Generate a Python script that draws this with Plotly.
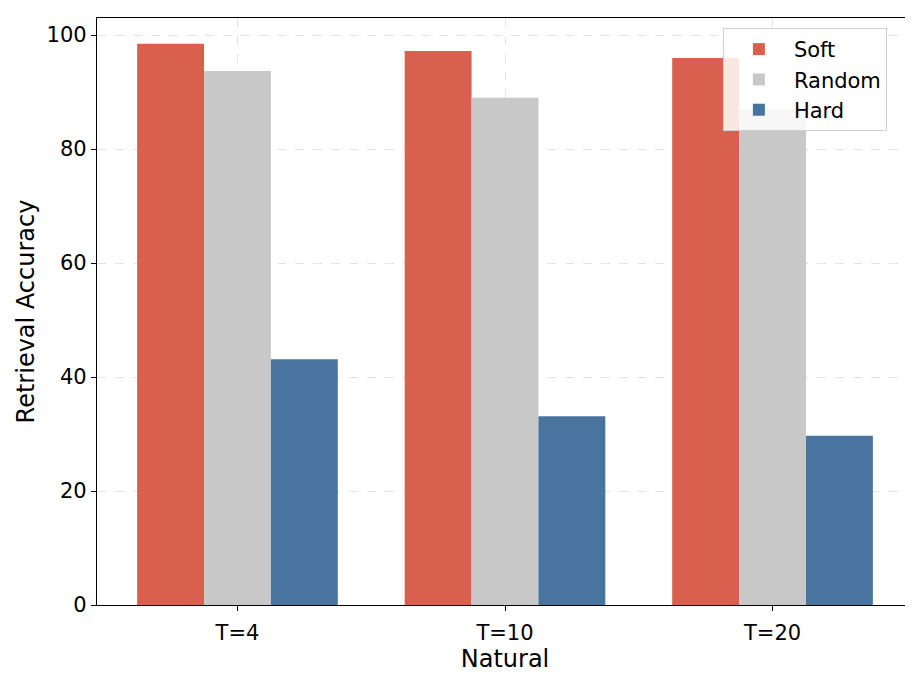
import plotly.graph_objects as go

categories = ["T=4", "T=10", "T=20"]
soft = [98.5, 97.2, 96.0]
random_ = [93.7, 89.0, 87.0]
hard = [43.1, 33.1, 29.7]

colors = {"Soft": "#d95f4e", "Random": "#c8c8c8", "Hard": "#48749f"}

fig = go.Figure()
for name, vals in [("Soft", soft), ("Random", random_), ("Hard", hard)]:
    fig.add_trace(go.Bar(x=categories, y=vals, name=name,
                         marker=dict(color=colors[name], line=dict(width=0))))

fig.update_layout(
    width=913, height=685,
    margin=dict(l=89, r=8, t=10, b=88, autoexpand=False),
    plot_bgcolor="white", paper_bgcolor="white",
    barmode="group", bargap=0.25, bargroupgap=0,
    font=dict(family="DejaVu Sans", size=21, color="black"),
    legend=dict(x=0.968, y=0.983, xanchor="right", yanchor="top",
                bgcolor="rgba(255,255,255,0.85)", bordercolor="#d0d0d0", borderwidth=1,
                font=dict(size=21), itemwidth=60, tracegroupgap=0),
    showlegend=True,
)
fig.update_xaxes(
    type="category", range=[-0.525, 2.525], automargin=False,
    title=dict(text="Natural", font=dict(size=24), standoff=0),
    showline=True, linecolor="black", linewidth=1.2, mirror=True,
    ticks="outside", ticklen=5, tickcolor="black", ticklabelstandoff=4,
    showgrid=True, gridcolor="#e3e3e3", griddash="dash", gridwidth=1,
)
fig.update_yaxes(
    range=[0, 103], tickvals=[0, 20, 40, 60, 80, 100], automargin=False,
    title=dict(text="Retrieval Accuracy", font=dict(size=24), standoff=5),
    showline=True, linecolor="black", linewidth=1.2, mirror=True,
    ticks="outside", ticklen=5, tickcolor="black",
    showgrid=True, gridcolor="#e3e3e3", griddash="dash", gridwidth=1,
    zeroline=False,
)
fig.write_html("out.html")
